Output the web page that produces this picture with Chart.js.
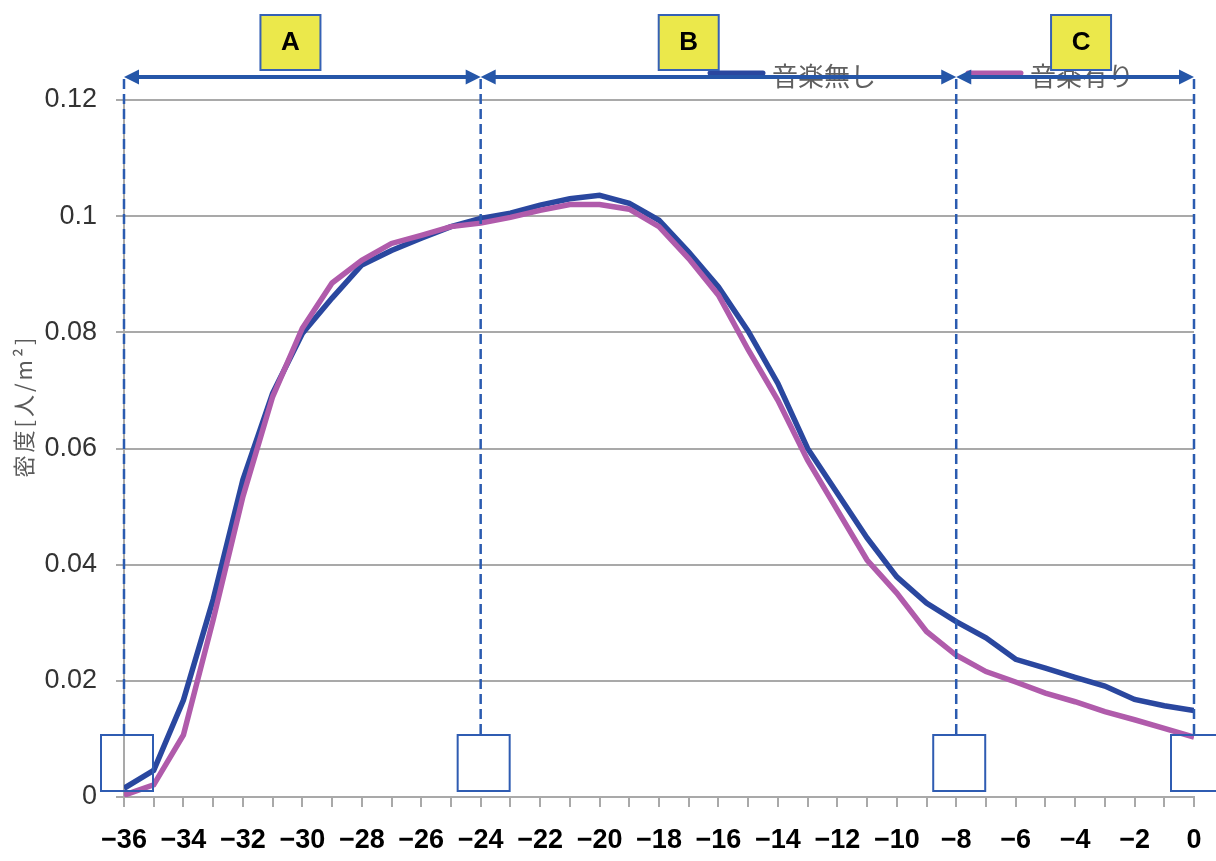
<!DOCTYPE html>
<html lang="ja">
<head>
<meta charset="utf-8">
<title>密度</title>
<script src="https://cdn.jsdelivr.net/npm/chart.js@4.4.1/dist/chart.umd.min.js"></script>
<style>
  html, body { margin: 0; padding: 0; background: #fff; }
  #chart { display: block; }
</style>
</head>
<body>
<canvas id="chart" width="1216" height="861"></canvas>
<script>
// 経過時間（分）
const minutes = [-36, -35, -34, -33, -32, -31, -30, -29, -28, -27, -26, -25, -24, -23, -22, -21, -20, -19,
                 -18, -17, -16, -15, -14, -13, -12, -11, -10, -9, -8, -7, -6, -5, -4, -3, -2, -1, 0];

// 密度 [人/m²]
const densityNoMusic = [0.0015, 0.0046, 0.0167, 0.0340, 0.0546, 0.0695, 0.0798, 0.0859, 0.0916, 0.0941,
                        0.0962, 0.0982, 0.0996, 0.1005, 0.1019, 0.1030, 0.1036, 0.1022, 0.0993, 0.0938,
                        0.0878, 0.0802, 0.0712, 0.0600, 0.0523, 0.0446, 0.0379, 0.0334, 0.0302, 0.0274,
                        0.0237, 0.0222, 0.0206, 0.0191, 0.0168, 0.0157, 0.0149];
const densityMusic = [0.0003, 0.0021, 0.0107, 0.0305, 0.0517, 0.0689, 0.0807, 0.0885, 0.0924, 0.0953,
                      0.0967, 0.0982, 0.0988, 0.0998, 0.1010, 0.1020, 0.1020, 0.1012, 0.0982, 0.0927,
                      0.0864, 0.0770, 0.0683, 0.0580, 0.0494, 0.0408, 0.0351, 0.0285, 0.0244, 0.0216,
                      0.0198, 0.0179, 0.0164, 0.0147, 0.0133, 0.0118, 0.0103];

const seriesNames = ['音楽無し', '音楽有り'];
const yTicks = [0, 0.02, 0.04, 0.06, 0.08, 0.1, 0.12];

// 区間 A / B / C の境界とラベル位置（分）
const sectionBounds = [-36, -24, -8, 0];
const sectionNames = ['A', 'B', 'C'];
const sectionLabelAt = [-30.4, -17, -3.8];

const BLUE = '#2a479f';
const PURPLE = '#b05bab';
const NOTE = '#2b5bb0';
const GRID = '#a9a9a9';
const BOLD = '"Liberation Sans", Arial, sans-serif';
const JP = '"Noto Sans CJK JP", "Noto Sans", sans-serif';

function toPoints(values) {
    return minutes.map((m, i) => ({ x: m, y: values[i] }));
}

function arrowHead(ctx, x, y, dir) {
    ctx.beginPath();
    ctx.moveTo(x, y);
    ctx.lineTo(x - dir * 15, y - 7.5);
    ctx.lineTo(x - dir * 15, y + 7.5);
    ctx.closePath();
    ctx.fill();
}

// 凡例・区間の矢印・破線・枠を描く
const sectionPlugin = {
    id: 'sections',
    afterDraw(chart) {
        const ctx = chart.ctx;
        const xs = chart.scales.x;
        const px = v => xs.getPixelForValue(v);
        const arrowY = 77;

        ctx.save();

        // 凡例
        const legend = [
            { name: seriesNames[0], color: BLUE, x: 710 },
            { name: seriesNames[1], color: PURPLE, x: 968 }
        ];
        legend.forEach(item => {
            ctx.strokeStyle = item.color;
            ctx.lineWidth = 5;
            ctx.lineCap = 'round';
            ctx.beginPath();
            ctx.moveTo(item.x, 73);
            ctx.lineTo(item.x + 53, 73);
            ctx.stroke();
            ctx.fillStyle = '#606060';
            ctx.font = '26px ' + JP;
            ctx.textAlign = 'left';
            ctx.textBaseline = 'middle';
            ctx.fillText(item.name, item.x + 62, 76);
        });
        ctx.lineCap = 'butt';

        // 境界の破線
        ctx.strokeStyle = NOTE;
        ctx.lineWidth = 2.5;
        ctx.setLineDash([10, 5]);
        sectionBounds.forEach(b => {
            ctx.beginPath();
            ctx.moveTo(px(b), arrowY + 2);
            ctx.lineTo(px(b), 735);
            ctx.stroke();
        });
        ctx.setLineDash([]);

        // 区間の両矢印
        ctx.strokeStyle = '#2556a8';
        ctx.fillStyle = '#2556a8';
        ctx.lineWidth = 4;
        for (let i = 0; i < sectionNames.length; i++) {
            const x0 = px(sectionBounds[i]);
            const x1 = px(sectionBounds[i + 1]);
            ctx.beginPath();
            ctx.moveTo(x0 + 12, arrowY);
            ctx.lineTo(x1 - 12, arrowY);
            ctx.stroke();
            arrowHead(ctx, x0, arrowY, -1);
            arrowHead(ctx, x1, arrowY, 1);
        }

        // 区間名
        sectionNames.forEach((name, i) => {
            const cx = px(sectionLabelAt[i]);
            ctx.fillStyle = '#ebe84b';
            ctx.fillRect(cx - 30, 15, 60, 55);
            ctx.strokeStyle = '#3561b5';
            ctx.lineWidth = 2;
            ctx.strokeRect(cx - 30, 15, 60, 55);
            ctx.fillStyle = '#000';
            ctx.font = 'bold 26px ' + BOLD;
            ctx.textAlign = 'center';
            ctx.textBaseline = 'middle';
            ctx.fillText(name, cx, 43);
        });

        // 境界下の枠
        ctx.strokeStyle = '#2f5cb2';
        ctx.lineWidth = 2;
        sectionBounds.forEach(b => {
            ctx.strokeRect(px(b) - 23, 735, 52, 56);
        });

        // 縦軸タイトル
        ctx.translate(24, 406);
        ctx.rotate(-Math.PI / 2);
        ctx.fillStyle = '#5a5a5a';
        ctx.font = '22px ' + JP;
        ctx.letterSpacing = '3px';
        ctx.textAlign = 'center';
        ctx.textBaseline = 'middle';
        ctx.fillText('密度[人/m²]', 0, 0);

        ctx.restore();
    }
};

const chart = new Chart(document.getElementById('chart'), {
    type: 'line',
    data: {
        datasets: [{
            label: seriesNames[0],
            data: toPoints(densityNoMusic),
            borderColor: BLUE,
            borderWidth: 5.5,
            pointRadius: 0,
            tension: 0,
            order: 2
        }, {
            label: seriesNames[1],
            data: toPoints(densityMusic),
            borderColor: PURPLE,
            borderWidth: 5.5,
            pointRadius: 0,
            tension: 0,
            order: 1
        }]
    },
    options: {
        responsive: false,
        animation: false,
        layout: { padding: { top: 100, right: 22, left: 0, bottom: 0 } },
        plugins: {
            legend: { display: false },
            tooltip: { enabled: false }
        },
        scales: {
            x: {
                type: 'linear',
                min: minutes[0],
                max: minutes[minutes.length - 1],
                afterFit: scale => {
                    scale.height = 64;
                    scale.paddingLeft = 0;
                    scale.paddingRight = 0;
                },
                afterBuildTicks: scale => { scale.ticks = minutes.map(m => ({ value: m })); },
                grid: { drawOnChartArea: false, drawTicks: true, tickLength: 10, color: GRID, lineWidth: 2 },
                border: { display: true, color: GRID, width: 2 },
                ticks: {
                    autoSkip: false,
                    maxRotation: 0,
                    padding: 17,
                    color: '#000',
                    font: { family: BOLD, size: 27, weight: 'bold' },
                    callback: v => (v % 2 === 0 ? (v < 0 ? '−' + Math.abs(v) : String(v)) : '')
                }
            },
            y: {
                min: 0,
                max: 0.12,
                afterFit: scale => { scale.width = 124; },
                afterBuildTicks: scale => { scale.ticks = yTicks.map(v => ({ value: v })); },
                grid: { color: GRID, lineWidth: 2, tickLength: 8 },
                border: { display: true, color: GRID, width: 2 },
                ticks: {
                    padding: 19,
                    color: '#333',
                    font: { family: '"Liberation Sans", Arial, sans-serif', size: 27 },
                    callback: v => String(+v.toFixed(2))
                }
            }
        }
    },
    plugins: [sectionPlugin]
});
</script>
</body>
</html>
